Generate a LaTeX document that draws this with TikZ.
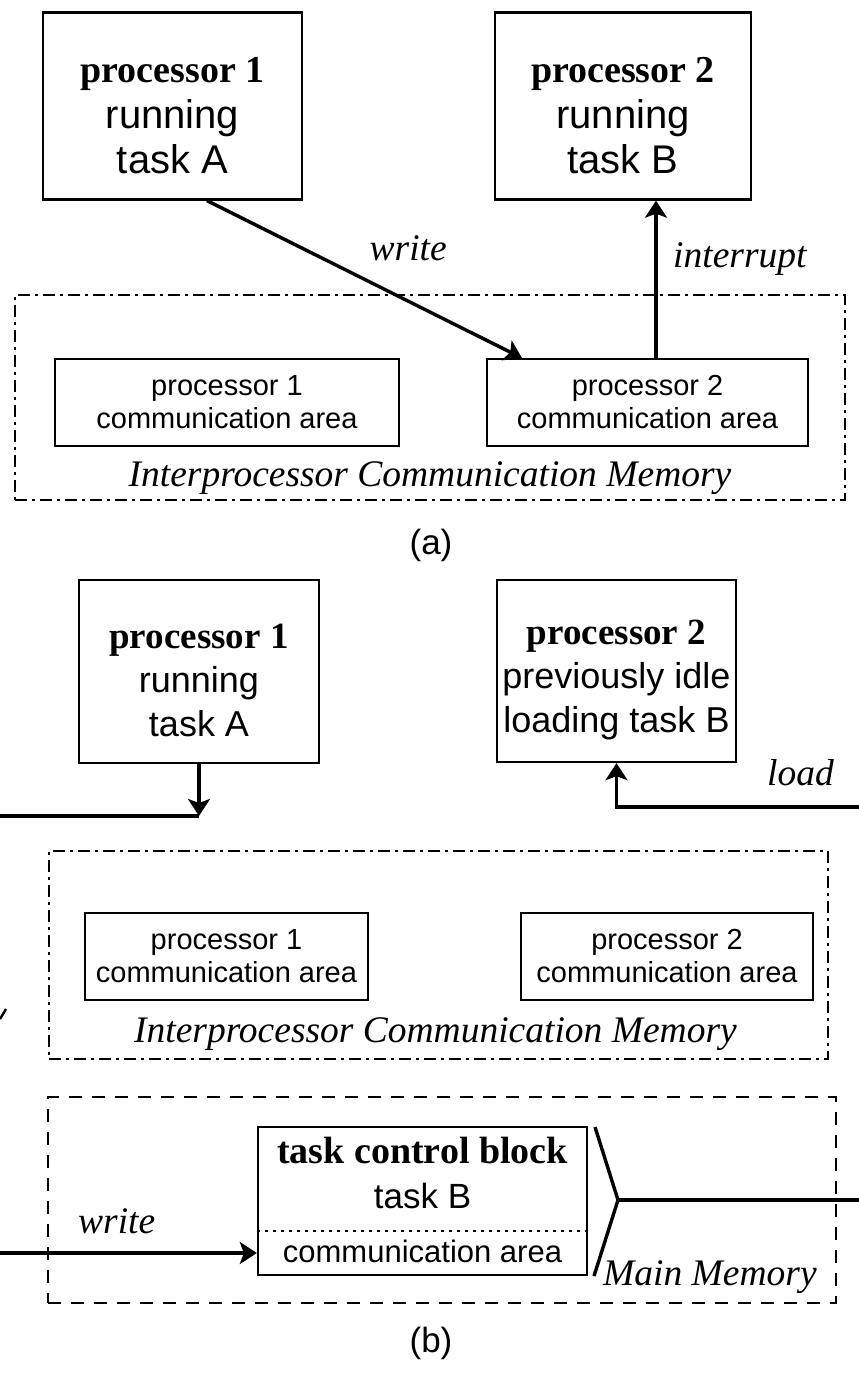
\documentclass[tikz,border=0pt]{standalone}
\usepackage{fontspec}
\setmainfont{Liberation Serif}
\newfontfamily\helv{Liberation Sans}
\usetikzlibrary{arrows.meta}

\begin{document}
\begin{tikzpicture}[x=1pt,y=-1pt,
    procbox/.style={draw, line width=2.3pt, inner sep=0pt, align=center,
        font=\helv\fontsize{40}{45.5}\selectfont},
    headline/.style={font=\rmfamily\bfseries\fontsize{38}{40}\selectfont},
    areabox/.style={draw, line width=2pt, inner sep=0pt, align=center,
        font=\helv\fontsize{29}{33}\selectfont},
    icmbox/.style={draw, line width=2.2pt, inner sep=0pt,
        dash pattern=on 12pt off 5pt on 3pt off 5pt},
    mainbox/.style={draw, line width=2.2pt, inner sep=0pt,
        dash pattern=on 13pt off 10pt},
    flow/.style={line width=3.4pt, -{Stealth[length=17pt,width=22pt,inset=4pt]}},
    wire/.style={line width=3.4pt},
    lbl/.style={font=\itshape\fontsize{37.5}{40}\selectfont, inner sep=0pt},
    figcap/.style={font=\helv\fontsize{35}{40}\selectfont, inner sep=0pt}]
\useasboundingbox (0,0) rectangle (859,1373);

\node[procbox, minimum width=259pt, minimum height=187pt] (procA1) at (172.5,106)
    {\rule{0pt}{45pt}\textbf{\rmfamily\fontsize{38}{40}\selectfont processor 1}\\running\\task A};
\node[procbox, minimum width=256pt, minimum height=187pt] (procA2) at (623,106)
    {\rule{0pt}{45pt}\textbf{\rmfamily\fontsize{38}{40}\selectfont processor 2}\\running\\task B};
\node[icmbox, minimum width=830pt, minimum height=205pt] (icmA) at (430,397.5) {};
\node[areabox, minimum width=344pt, minimum height=87pt] (areaA1) at (227,402.5)
    {processor 1\\communication area};
\node[areabox, minimum width=321pt, minimum height=87pt] (areaA2) at (647.5,402.5)
    {processor 2\\communication area};
\node[lbl, anchor=base] (icmAtext) at (430,486) {Interprocessor Communication Memory};
\draw[flow] ([xshift=34.5pt]procA1.south) -- ([xshift=36pt]areaA2.north west);
\node[lbl, anchor=base east] (writeA) at (447,260) {write};
\draw[flow] ([xshift=33pt]procA2.south |- areaA2.north) -- ([xshift=33pt]procA2.south);
\node[lbl, anchor=base west] (interruptA) at (673,267) {interrupt};
\node[figcap] (capA) at (431,545) {(a)};

\node[procbox, minimum width=240pt, minimum height=183pt,
    font=\helv\fontsize{36}{44}\selectfont] (procB1) at (199,671.5)
    {\rule{0pt}{42pt}\textbf{\rmfamily\fontsize{37}{40}\selectfont processor 1}\\running\\task A};
\node[procbox, minimum width=239pt, minimum height=182pt,
    font=\helv\fontsize{36}{44}\selectfont] (procB2) at (616.5,671)
    {\rule{0pt}{42pt}\textbf{\rmfamily\fontsize{37}{40}\selectfont processor 2}\\previously idle\\loading task B};
\coordinate (offL) at (0,816);
\coordinate (offR) at (859,807);
\draw[wire] (offL) -- (offL -| procB1.south);
\draw[flow] (procB1.south) -- (offL -| procB1.south);
\draw[flow] (offR) -- (offR -| procB2.south) -- (procB2.south);
\node[lbl, anchor=base west] (loadB) at (767,785) {load};

\node[icmbox, minimum width=779pt, minimum height=208pt] (icmB) at (438.5,955) {};
\node[areabox, minimum width=283pt, minimum height=87pt] (areaB1) at (226.5,956.5)
    {processor 1\\communication area};
\node[areabox, minimum width=292pt, minimum height=87pt] (areaB2) at (667,956.5)
    {processor 2\\communication area};
\node[lbl, anchor=base east] (icmBtext) at (737,1042) {Interprocessor Communication Memory};
\draw[line width=2.4pt] (0,1019) -- (6,1009);

\node[mainbox, minimum width=788pt, minimum height=206pt] (mainB) at (442,1200) {};
\node[draw, line width=2.3pt, inner sep=0pt, minimum width=329pt, minimum height=148pt]
    (tcb) at (422.5,1201) {};
\node[headline, anchor=base, inner sep=0pt] (tcbHead) at (422.5,1163) {task control block};
\node[anchor=base, inner sep=0pt, font=\helv\fontsize{35}{38}\selectfont]
    (tcbTask) at (422.5,1208) {task B};
\node[anchor=base, inner sep=0pt, font=\helv\fontsize{31}{33}\selectfont]
    (tcbComm) at (422.5,1262) {communication area};
\draw[line width=1.8pt, dash pattern=on 3pt off 5pt] (tcb.west |- 0,1231) -- (tcb.east |- 0,1231);
\coordinate (offW) at (0,1253);
\draw[flow] (offW) -- (offW -| tcb.west);
\node[lbl, anchor=base west] (writeB) at (78,1233) {write};
\coordinate (brk) at (618,1200);
\coordinate (offM) at (859,1200);
\draw[wire] (595,1127) -- (brk) -- (594,1276);
\draw[wire] (brk) -- (offM);
\node[lbl, anchor=base west] (mainText) at (603,1285) {Main Memory};
\node[figcap] (capB) at (431,1343) {(b)};
\end{tikzpicture}
\end{document}
